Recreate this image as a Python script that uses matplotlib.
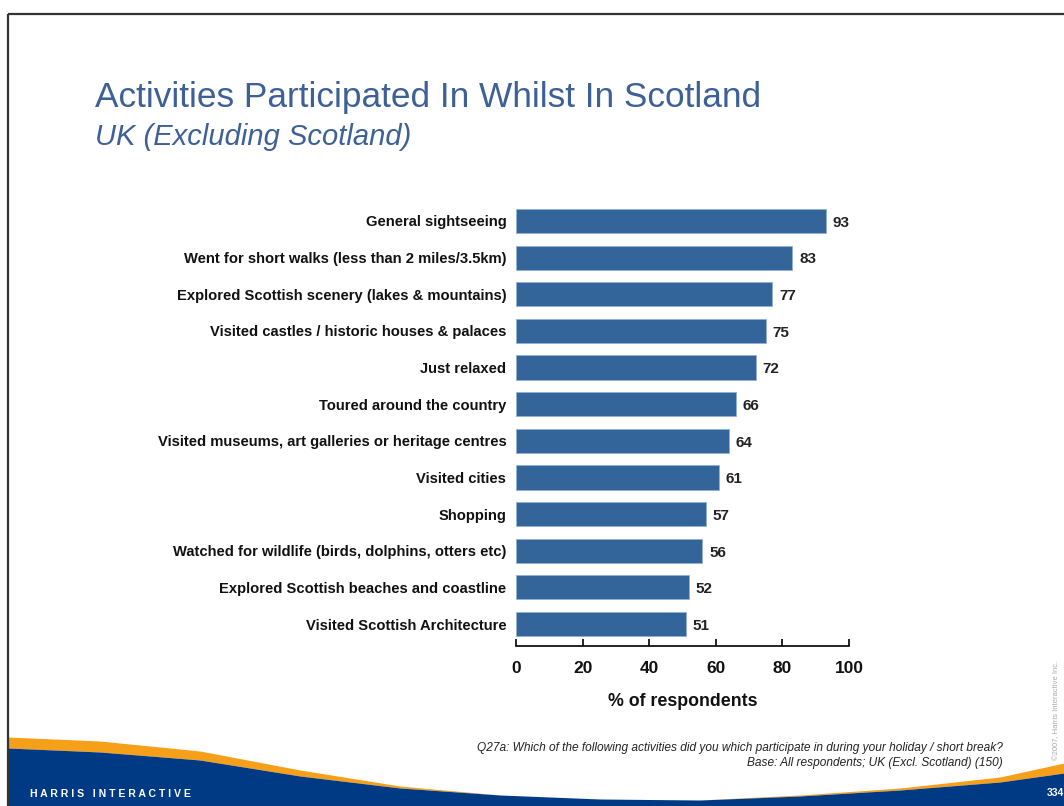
import numpy as np
import matplotlib
matplotlib.use("Agg")
import matplotlib.pyplot as plt

plt.rcParams['font.family'] = ['Liberation Sans', 'DejaVu Sans']

# survey results, % of respondents
activities = [
    "General sightseeing",
    "Went for short walks (less than 2 miles/3.5km)",
    "Explored Scottish scenery (lakes & mountains)",
    "Visited castles / historic houses & palaces",
    "Just relaxed",
    "Toured around the country",
    "Visited museums, art galleries or heritage centres",
    "Visited cities",
    "Shopping",
    "Watched for wildlife (birds, dolphins, otters etc)",
    "Explored Scottish beaches and coastline",
    "Visited Scottish Architecture",
]
pct = [93, 83, 77, 75, 72, 66, 64, 61, 57, 56, 52, 51]
xticks = [0, 20, 40, 60, 80, 100]

BAR = '#34659a'
TITLE = '#3d6096'
NAVY = '#003a84'
ORANGE = '#f6a01a'

W, H = 1064, 806
fig = plt.figure(figsize=(W / 100, H / 100), dpi=100)

# slide background in pixel coordinates
bg = fig.add_axes([0, 0, 1, 1], zorder=0)
bg.set_xlim(0, W)
bg.set_ylim(H, 0)
bg.axis('off')

# frame lines (top and left)
bg.plot([8, W], [14, 14], color='#333333', lw=1.6, solid_capstyle='butt')
bg.plot([8, 8], [14, H], color='#333333', lw=1.6, solid_capstyle='butt')

# footer swoosh
sx = np.array([8, 100, 200, 300, 400, 500, 600, 700, 800, 900, 1000, 1064])
blue_top = np.array([748, 752, 760, 776, 788, 795, 799, 800, 796, 790, 782, 773])
orange_top = np.array([737, 741, 751, 770, 786, 795, 799, 800, 795, 788, 777, 763])
xs = np.linspace(8, W, 400)
bt = np.interp(xs, sx, blue_top)
ot = np.interp(xs, sx, orange_top)
bg.fill_between(xs, ot, bt, color=ORANGE, lw=0)
bg.fill_between(xs, bt, H, color=NAVY, lw=0)

bg.text(30, 794, "H A R R I S   I N T E R A C T I V E", color='white',
        fontsize=7.6, fontweight='bold', va='center', ha='left')
bg.text(1047, 793, "334", color='white', fontsize=7.5, fontweight='bold',
        va='center', ha='left')

# titles
bg.text(95, 97, "Activities Participated In Whilst In Scotland", color=TITLE,
        fontsize=25.4, va='center', ha='left')
bg.text(95, 137, "UK (Excluding Scotland)", color=TITLE, fontsize=21,
        style='italic', va='center', ha='left')

# footnote
bg.text(1003, 748, "Q27a: Which of the following activities did you which participate in during your holiday / short break?",
        style='italic', fontsize=8.6, color='#222222', ha='right', va='center')
bg.text(1003, 763, "Base: All respondents; UK (Excl. Scotland) (150)",
        style='italic', fontsize=8.6, color='#222222', ha='right', va='center')
bg.text(1057, 710, "\u00a92007, Harris Interactive Inc.", color='#aaaaaa', fontsize=5.5,
        rotation=90, va='center', ha='center')

# bar chart
ax = fig.add_axes([516 / W, 1 - 646 / H, 333 / W, (646 - 199) / H], zorder=1)
ax.patch.set_alpha(0)
y = np.arange(len(activities))
ax.barh(y, pct, height=0.66, color=BAR, edgecolor='#8fb0d6', linewidth=0.6)
for yi, v in zip(y, pct):
    ax.text(v + 2, yi + 0.05, str(v), va='center', ha='left', fontsize=11,
            fontweight='bold', color='#222222')

ax.set_ylim(len(activities) - 0.4, -0.6)
ax.set_xlim(0, 100)
ax.set_yticks(y)
ax.set_yticklabels(activities, fontsize=10.6, fontweight='bold', color='#111111')
ax.tick_params(axis='y', length=0, pad=7)
ax.set_xticks(xticks)
ax.set_xticklabels([str(t) for t in xticks], fontsize=12.5, fontweight='bold', color='#111111')
ax.tick_params(axis='x', direction='in', length=5, width=1.2, pad=11)
for s in ['top', 'right', 'left']:
    ax.spines[s].set_visible(False)
ax.spines['bottom'].set_linewidth(1.2)
ax.set_xlabel("% of respondents", fontsize=12.8, fontweight='bold', labelpad=12,
              color='#111111')

fig.savefig("out.png", dpi=100)
